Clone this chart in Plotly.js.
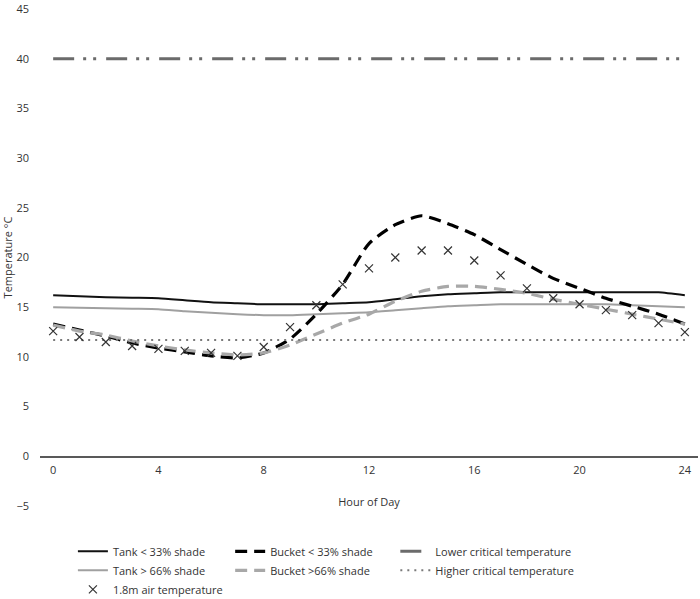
<!DOCTYPE html>
<html>
<head>
<meta charset="utf-8">
<script src="https://cdn.plot.ly/plotly-3.0.1.min.js"></script>
<style>
  body { margin: 0; background: #fff; }
  #chart { width: 700px; height: 599px; }
</style>
</head>
<body>
<div id="chart"></div>
<script>
// hour of day, 0..24
var hours = [0, 1, 2, 3, 4, 5, 6, 7, 8, 9, 10, 11, 12, 13, 14, 15, 16, 17, 18, 19, 20, 21, 22, 23, 24];

var tankLow = [16.2, 16.1, 16.0, 15.95, 15.9, 15.7, 15.5, 15.4, 15.3, 15.3, 15.3, 15.4, 15.5, 15.8, 16.1, 16.3, 16.4, 16.5, 16.5, 16.5, 16.5, 16.5, 16.5, 16.5, 16.2];
var tankHigh = [15.0, 14.95, 14.9, 14.85, 14.8, 14.6, 14.45, 14.3, 14.2, 14.2, 14.3, 14.4, 14.5, 14.7, 14.9, 15.1, 15.2, 15.3, 15.3, 15.3, 15.3, 15.3, 15.2, 15.1, 15.0];
var bucketLow = [13.3, 12.7, 12.1, 11.4, 10.9, 10.5, 10.1, 9.9, 10.4, 11.8, 14.3, 17.3, 21.4, 23.3, 24.2, 23.4, 22.3, 20.8, 19.3, 17.9, 16.9, 15.9, 15.1, 14.3, 13.3];
var bucketHigh = [13.2, 12.6, 12.2, 11.6, 11.1, 10.7, 10.4, 10.2, 10.4, 11.2, 12.3, 13.4, 14.3, 15.6, 16.6, 17.1, 17.1, 16.8, 16.4, 15.8, 15.3, 14.8, 14.3, 13.8, 13.3];
var airTemp = [12.6, 12.0, 11.5, 11.1, 10.8, 10.6, 10.4, 10.1, 11.0, 13.0, 15.2, 17.3, 18.9, 20.0, 20.7, 20.7, 19.7, 18.2, 16.9, 15.9, 15.3, 14.7, 14.2, 13.4, 12.5];

// critical temperature lines, drawn across the day
var criticalHours = [0, 24];
var lowerCritical = [40, 40];
var higherCritical = [11.7, 11.7];

var tickVals = [0, 4, 8, 12, 16, 20, 24];

var FONT = 'Open Sans, Noto Sans, sans-serif';
var TXT = '#333333';

// three legends, one per column like the original key
var data = [
  {x: hours, y: tankLow, name: 'Tank < 33% shade', mode: 'lines', legend: 'legend',
   line: {color: '#111111', width: 2, shape: 'spline', smoothing: 0.6}},
  {x: hours, y: tankHigh, name: 'Tank > 66% shade', mode: 'lines', legend: 'legend',
   line: {color: '#a0a0a0', width: 2, shape: 'spline', smoothing: 0.6}},
  {x: hours, y: bucketLow, name: 'Bucket < 33% shade', mode: 'lines', legend: 'legend2',
   line: {color: '#000000', width: 3.2, dash: '12px,7px', shape: 'spline', smoothing: 0.6}},
  {x: hours, y: bucketHigh, name: 'Bucket >66% shade', mode: 'lines', legend: 'legend2',
   line: {color: '#a8a8a8', width: 3.2, dash: '12px,7px', shape: 'spline', smoothing: 0.6}},
  {x: criticalHours, y: lowerCritical, name: 'Lower critical temperature', mode: 'lines', legend: 'legend3',
   line: {color: '#6b6b6b', width: 3, dash: '21px,9px,3px,7px,3px,10px'}},
  {x: criticalHours, y: higherCritical, name: 'Higher critical temperature', mode: 'lines', legend: 'legend3',
   line: {color: '#7a7a7a', width: 2, dash: '2px,5px'}},
  {x: hours, y: airTemp, name: '1.8m air temperature', mode: 'markers', legend: 'legend',
   marker: {symbol: 'x-thin-open', size: 8, color: TXT, line: {color: TXT, width: 1.2}}}
];

function legendAt(xPos) {
  return {
    orientation: 'v',
    x: xPos, xanchor: 'left',
    y: -0.062, yanchor: 'top',
    traceorder: 'normal',
    font: {family: FONT, size: 11, color: TXT},
    bgcolor: 'rgba(0,0,0,0)'
  };
}

var layout = {
  width: 700,
  height: 599,
  margin: {l: 40, r: 2, t: 9, b: 93, autoexpand: false},
  paper_bgcolor: '#ffffff',
  plot_bgcolor: '#ffffff',
  font: {family: FONT, size: 11, color: TXT},
  showlegend: true,
  legend: legendAt(0.050),
  legend2: legendAt(0.289),
  legend3: legendAt(0.540),
  xaxis: {
    range: [-0.5, 24.5],
    tickvals: tickVals,
    ticktext: tickVals.map(String),
    showgrid: false,
    zeroline: false,
    showline: true,
    linecolor: '#595959',
    linewidth: 1.5,
    ticks: '',
    ticklabelstandoff: 3,
    anchor: 'free',
    position: 0.1,
    tickfont: {family: FONT, size: 11, color: TXT},
    title: {text: 'Hour of Day', font: {family: FONT, size: 11, color: TXT}, standoff: 22}
  },
  yaxis: {
    range: [-5, 45],
    dtick: 5,
    showgrid: false,
    zeroline: false,
    showline: false,
    ticks: '',
    ticklabelstandoff: 10,
    ticklabeloverflow: 'allow',
    tickfont: {family: FONT, size: 11, color: TXT},
    title: {text: 'Temperature °C', font: {family: FONT, size: 11, color: TXT}, standoff: 4},
    automargin: false
  }
};

Plotly.newPlot('chart', data, layout, {displayModeBar: false, staticPlot: true});
</script>
</body>
</html>
